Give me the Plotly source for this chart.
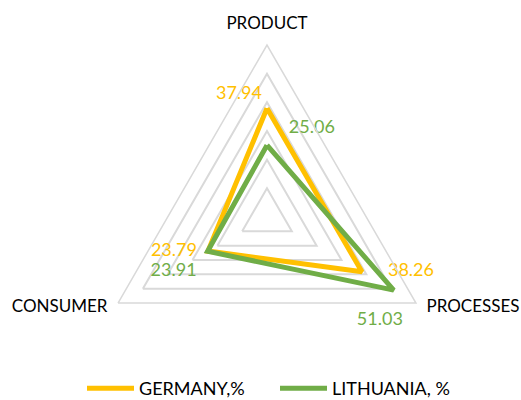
import plotly.graph_objects as go

categories = ["PRODUCT", "PROCESSES", "CONSUMER"]
germany = [37.94, 38.26, 23.79]
lithuania = [25.06, 51.03, 23.91]
series_names = ["GERMANY,%", "LITHUANIA, %"]

ORANGE = "#FFC000"
GREEN = "#70AD47"
GRID = "#D9D9D9"
FONT = "Lato"
NB = "\u00a0"


def closed(v):
    return list(v) + [v[0]]


theta = closed(categories)

g_text = [f"{v:.2f}" for v in germany]
l_text = [f"{v:.2f}" for v in lithuania]
l_text[0] = NB * 3 + l_text[0]
l_text[1] = l_text[1] + NB * 6

# angular tick labels; bottom labels get blank trailing lines to sit a bit higher
tick_text = [categories[0]] + [c + ("<br>" + NB) * 2 for c in categories[1:]]

fig = go.Figure()
# series lines
fig.add_trace(go.Scatterpolar(
    r=closed(germany), theta=theta, name=series_names[0], mode="lines",
    line=dict(color=ORANGE, width=5), hoverinfo="skip",
))
fig.add_trace(go.Scatterpolar(
    r=closed(lithuania), theta=theta, name=series_names[1], mode="lines",
    line=dict(color=GREEN, width=5), hoverinfo="skip",
))
# data labels (invisible markers set the text offset)
fig.add_trace(go.Scatterpolar(
    r=germany, theta=categories, mode="markers+text", showlegend=False,
    marker=dict(size=[6.4, 40, 16], opacity=0),
    text=g_text,
    textposition=["top left", "middle right", "middle left"],
    textfont=dict(family=FONT, size=18, color=ORANGE),
    hoverinfo="skip",
))
fig.add_trace(go.Scatterpolar(
    r=lithuania, theta=categories, mode="markers+text", showlegend=False,
    marker=dict(size=[11.2, 32.8, 16], opacity=0),
    text=l_text,
    textposition=["top right", "bottom center", "bottom left"],
    textfont=dict(family=FONT, size=18, color=GREEN),
    hoverinfo="skip",
))

fig.update_layout(
    width=521, height=407,
    margin=dict(l=0, r=0, t=0, b=0),
    paper_bgcolor="white",
    font=dict(family=FONT, color="black"),
    polar=dict(
        domain=dict(x=[0.1823, 0.8426], y=[18 / 407, 362 / 407]),
        gridshape="linear",
        bgcolor="white",
        radialaxis=dict(range=[0, 60], tick0=0, dtick=10, showticklabels=False,
                        ticks="", showline=False, gridcolor=GRID, gridwidth=1.5),
        angularaxis=dict(rotation=90, direction="clockwise", showgrid=False,
                         showline=True, linecolor=GRID, linewidth=1.5,
                         tickmode="array", tickvals=categories, ticktext=tick_text,
                         ticks="outside", ticklen=8, tickcolor="rgba(0,0,0,0)",
                         tickfont=dict(family=FONT, size=17, color="black")),
    ),
    showlegend=True,
    legend=dict(orientation="h", x=0.1574, xanchor="left", y=0.0, yanchor="bottom",
                itemwidth=47, entrywidth=131,
                font=dict(family=FONT, size=18, color="black"),
                bgcolor="rgba(0,0,0,0)"),
)

fig.write_html("out.html", config={"displayModeBar": False},
               post_script="document.body.style.margin='0';document.body.style.overflow='hidden';")
